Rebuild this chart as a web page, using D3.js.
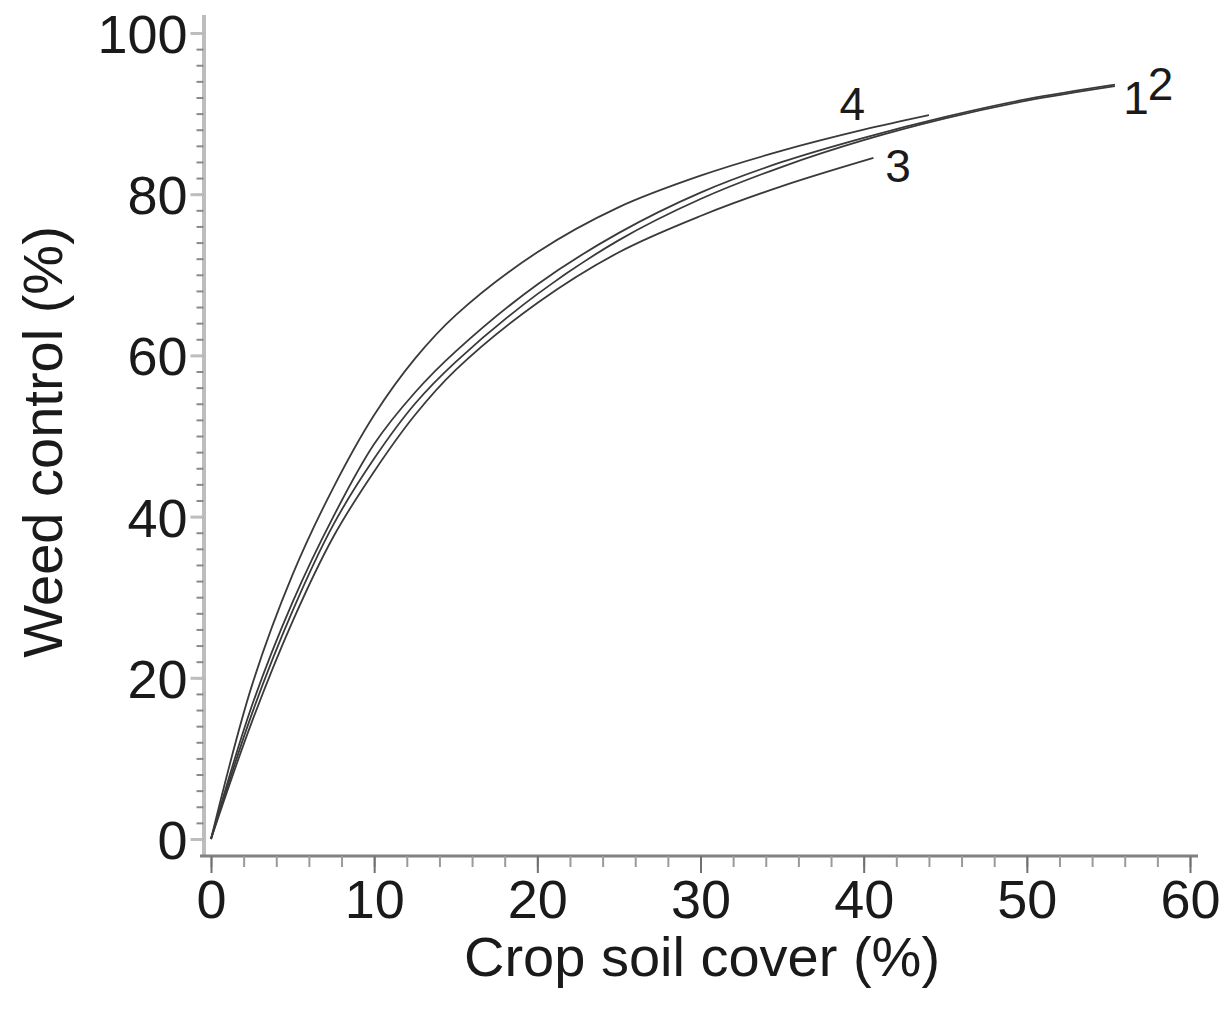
<!DOCTYPE html>
<html>
<head>
<meta charset="utf-8">
<script src="https://cdn.jsdelivr.net/npm/d3@7"></script>
<style>
  body { margin: 0; background: #fff; }
  svg { display: block; }
  .tick text { font-family: "Liberation Sans", Arial, sans-serif; fill: #1a1a1a; }
  .curve { fill: none; stroke: #3a3a3a; stroke-width: 1.8; }
</style>
</head>
<body>
<svg id="myGraph" width="1228" height="1018"></svg>
<script>
// values
var coverX   = [0, 2.5, 5, 7.5, 10, 12.5, 15, 20, 25, 30, 35, 40, 45, 50, 55.4];
var curve1   = [0, 15.5, 28.3, 39, 47.2, 54, 59.2, 67.6, 74.3, 79.4, 83.4, 86.7, 89.4, 91.6, 93.4];
var curve2   = [0, 16.5, 29.4, 40, 49, 55.4, 60.5, 68.8, 75.2, 80.2, 84, 87, 89.6, 91.8, 93.6];
var curve3   = [0, 14.5, 27, 37.5, 45.6, 52.6, 58.2, 66.5, 72.8, 77.3, 81, 84.5];
var curve4   = [0, 19, 32.8, 43.6, 52.6, 59.6, 65, 72.8, 78.4, 82.3, 85.4, 88, 89.8];
var curveX3  = [0, 2.5, 5, 7.5, 10, 12.5, 15, 20, 25, 30, 35, 40.6];
var curveX4  = [0, 2.5, 5, 7.5, 10, 12.5, 15, 20, 25, 30, 35, 40, 44];
var labelNames = ["1", "2", "3", "4"];
var labelX     = [56.7, 58.2, 42.1, 39.3];
var labelY     = [92.0, 93.8, 83.6, 91.2];
var xTicks = [0, 10, 20, 30, 40, 50, 60];
var yTicks = [0, 20, 40, 60, 80, 100];

var svg = d3.select("#myGraph");
var xScale = d3.scaleLinear().domain([0, 60]).range([211, 1190]);
var yScale = d3.scaleLinear().domain([0, 100]).range([839, 33]);
var axisY = 856;   // x axis sits below zero
var axisX = 203.5; // y axis sits left of zero

// y axis line (light gray)
svg.append("rect")
  .attr("x", axisX - 1.5).attr("y", 15)
  .attr("width", 4).attr("height", axisY - 15)
  .attr("fill", "#bdbdbd");

// y minor ticks
svg.append("g")
  .attr("transform", "translate(" + axisX + ",0)")
  .call(d3.axisLeft(yScale).tickValues(d3.range(0, 101, 2)).tickSize(7).tickFormat(""))
  .call(function(g){ g.select(".domain").remove(); })
  .selectAll("line").attr("stroke", "#8a8a8a").attr("stroke-width", 2);

// y major ticks + labels
svg.append("g")
  .attr("transform", "translate(" + axisX + ",0)")
  .call(d3.axisLeft(yScale).tickValues(yTicks).tickSize(13).tickPadding(3))
  .call(function(g){ g.select(".domain").remove(); })
  .call(function(g){
    g.selectAll("line").attr("stroke", "#bdbdbd").attr("stroke-width", 3);
    g.selectAll("text").attr("font-size", 54).attr("dy", "0.36em");
  });

// x axis line
svg.append("rect")
  .attr("x", 200).attr("y", axisY - 1.5)
  .attr("width", 998).attr("height", 3)
  .attr("fill", "#808080");

// x minor ticks
svg.append("g")
  .attr("transform", "translate(0," + axisY + ")")
  .call(d3.axisBottom(xScale).tickValues(d3.range(0, 61, 2)).tickSize(11).tickFormat(""))
  .call(function(g){ g.select(".domain").remove(); })
  .selectAll("line").attr("stroke", "#9a9a9a").attr("stroke-width", 2);

// x major ticks + labels
svg.append("g")
  .attr("transform", "translate(0," + axisY + ")")
  .call(d3.axisBottom(xScale).tickValues(xTicks).tickSize(17).tickPadding(6))
  .call(function(g){ g.select(".domain").remove(); })
  .call(function(g){
    g.selectAll("line").attr("stroke", "#707070").attr("stroke-width", 2);
    g.selectAll("text").attr("font-size", 54).attr("dy", "0.72em");
  });

// curves
var line = d3.line()
  .x(function(d){ return xScale(d[0]); })
  .y(function(d){ return yScale(d[1]); })
  .curve(d3.curveCatmullRom.alpha(0.5));

var series = [
  d3.zip(coverX, curve1),
  d3.zip(coverX, curve2),
  d3.zip(curveX3, curve3),
  d3.zip(curveX4, curve4)
];
svg.selectAll("path.curve")
  .data(series)
  .enter().append("path")
  .attr("class", "curve")
  .attr("d", line);

// curve labels
svg.selectAll("text.lab")
  .data(labelNames)
  .enter().append("text")
  .attr("class", "lab")
  .attr("x", function(d, i){ return xScale(labelX[i]); })
  .attr("y", function(d, i){ return yScale(labelY[i]); })
  .attr("dy", "0.36em")
  .attr("text-anchor", "middle")
  .attr("font-family", "Liberation Sans, Arial, sans-serif")
  .attr("font-size", 46)
  .attr("fill", "#1a1a1a")
  .text(function(d){ return d; });

// axis titles
svg.append("text")
  .attr("x", 702).attr("y", 976)
  .attr("text-anchor", "middle")
  .attr("font-family", "Liberation Sans, Arial, sans-serif")
  .attr("font-size", 56)
  .attr("fill", "#1a1a1a")
  .text("Crop soil cover (%)");

svg.append("text")
  .attr("transform", "translate(62,442) rotate(-90)")
  .attr("text-anchor", "middle")
  .attr("font-family", "Liberation Sans, Arial, sans-serif")
  .attr("font-size", 56)
  .attr("fill", "#1a1a1a")
  .text("Weed control (%)");
</script>
</body>
</html>
